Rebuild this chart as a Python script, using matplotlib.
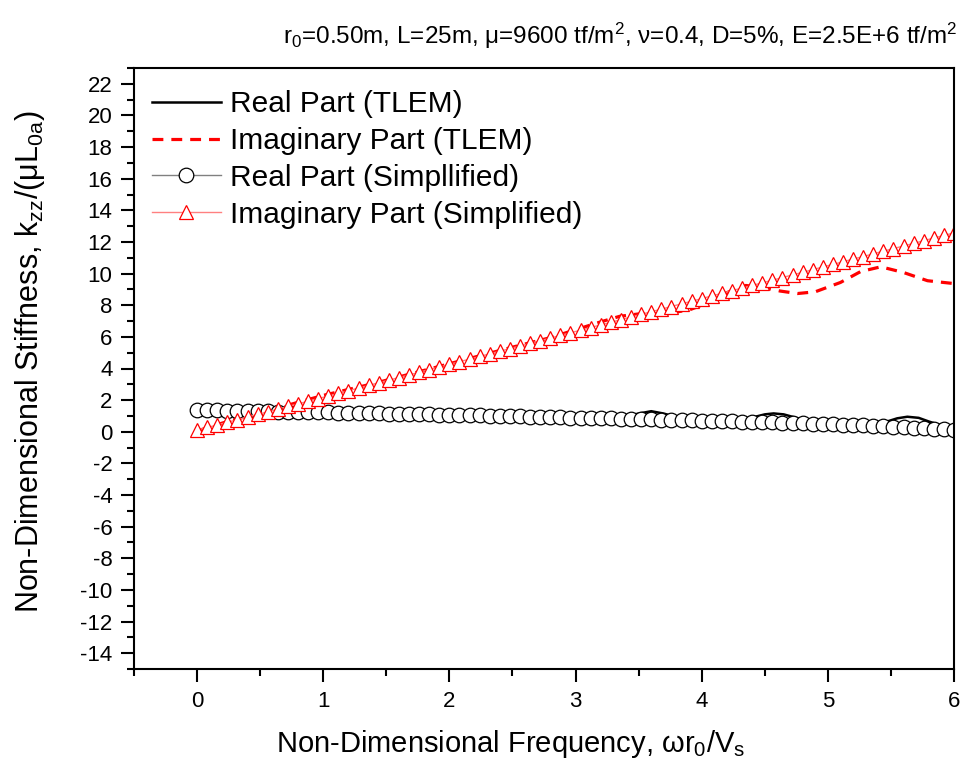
import matplotlib
matplotlib.use("Agg")
from matplotlib import pyplot as plt

plt.rcParams['font.family'] = ['Liberation Sans', 'DejaVu Sans']
plt.rcParams['mathtext.fontset'] = 'custom'
plt.rcParams['mathtext.rm'] = 'Liberation Sans'
plt.rcParams['mathtext.it'] = 'Liberation Sans:italic'
plt.rcParams['axes.unicode_minus'] = False

# simplified model, sampled every 0.08
freq_simple = [round(0.08 * k, 2) for k in range(76)]
real_simple = [1.37, 1.36, 1.35, 1.34, 1.33, 1.31, 1.30, 1.29, 1.28, 1.27,
               1.26, 1.25, 1.24, 1.22, 1.21, 1.20, 1.19, 1.18, 1.16, 1.15,
               1.14, 1.13, 1.12, 1.10, 1.09, 1.08, 1.07, 1.05, 1.03, 1.02,
               1.00, 0.99, 0.97, 0.96, 0.94, 0.93, 0.91, 0.90, 0.88, 0.87,
               0.85, 0.84, 0.82, 0.81, 0.79, 0.78, 0.76, 0.75, 0.73, 0.72,
               0.70, 0.68, 0.67, 0.65, 0.64, 0.62, 0.60, 0.59, 0.57, 0.55,
               0.53, 0.51, 0.49, 0.47, 0.44, 0.42, 0.40, 0.37, 0.35, 0.32,
               0.29, 0.25, 0.22, 0.19, 0.15, 0.12]
imag_simple = [0.10, 0.27, 0.43, 0.60, 0.77, 0.93, 1.10, 1.26, 1.43, 1.60,
               1.76, 1.93, 2.10, 2.26, 2.43, 2.60, 2.76, 2.93, 3.10, 3.26,
               3.43, 3.59, 3.76, 3.93, 4.09, 4.26, 4.43, 4.59, 4.76, 4.93,
               5.09, 5.26, 5.42, 5.59, 5.76, 5.92, 6.09, 6.26, 6.42, 6.59,
               6.76, 6.92, 7.09, 7.26, 7.42, 7.59, 7.75, 7.92, 8.09, 8.25,
               8.42, 8.59, 8.75, 8.92, 9.09, 9.25, 9.42, 9.58, 9.75, 9.92,
               10.08, 10.25, 10.42, 10.58, 10.75, 10.92, 11.08, 11.25, 11.42, 11.58,
               11.75, 11.91, 12.08, 12.25, 12.41, 12.58]

# TLEM solution
freq_tlem_re = [0.0, 0.5, 1.0, 1.5, 2.0, 2.5, 2.9, 3.1, 3.3, 3.4, 3.5, 3.6, 3.7,
                3.8, 3.9, 4.0, 4.1, 4.2, 4.3, 4.4, 4.5, 4.57, 4.65, 4.75, 4.85,
                4.95, 5.05, 5.15, 5.25, 5.35, 5.45, 5.55, 5.63, 5.72, 5.8, 5.9, 6.0]
real_tlem = [1.37, 1.30, 1.23, 1.15, 1.08, 0.98, 0.90, 0.86, 0.88, 0.98, 1.15, 1.30, 1.15,
             0.92, 0.70, 0.55, 0.48, 0.52, 0.68, 0.90, 1.10, 1.16, 1.10, 0.88, 0.62,
             0.40, 0.25, 0.20, 0.25, 0.40, 0.60, 0.85, 0.95, 0.88, 0.65, 0.40, 0.18]
freq_tlem_im = [0.0, 0.2, 0.5, 1.0, 1.4, 2.0, 2.5, 2.8, 3.0, 3.2, 3.35, 3.5, 3.7,
                3.9, 4.05, 4.2, 4.35, 4.5, 4.62, 4.76, 4.9, 5.1, 5.26, 5.42, 5.6,
                5.79, 6.0]
imag_tlem = [0.05, 0.55, 1.20, 2.30, 3.05, 4.30, 5.35, 5.95, 6.45, 6.95, 7.30, 7.45, 7.45,
             7.70, 8.15, 8.80, 9.25, 9.10, 8.90, 8.74, 8.85, 9.44, 10.13, 10.43, 10.07,
             9.55, 9.37]

fig = plt.figure(figsize=(9.64, 7.72), dpi=100)
ax = fig.add_axes([134 / 964, 1 - 669 / 772, 820 / 964, 601 / 772])

ax.plot(freq_tlem_re, real_tlem, color='black', lw=1.8, label='Real Part (TLEM)')
ax.plot(freq_tlem_im, imag_tlem, color='red', lw=2.3, ls=(0, (3.4, 2.5)),
        label='Imaginary Part (TLEM)')
ax.plot(freq_simple, real_simple, color='#808080', lw=1.0, marker='o', ms=10.5,
        mfc='white', mec='black', mew=0.9, label='Real Part (Simpllified)')
ax.plot(freq_simple, imag_simple, color='#ff8080', lw=1.0, marker='^', ms=10.5,
        mfc='white', mec='red', mew=0.9, label='Imaginary Part (Simplified)')

ax.set_xlim(-0.5, 6)
ax.set_ylim(-15, 23)
ax.set_xticks(range(0, 7))
ax.set_xticks([x / 2 for x in range(-1, 13)], minor=True)
ax.set_yticks(range(-14, 23, 2))
ax.set_yticks(range(-15, 24), minor=True)
ax.tick_params(which='both', direction='out', width=1.5, labelsize=16)
ax.tick_params(which='major', length=9.5, pad=6)
ax.tick_params(which='minor', length=5)
for s in ax.spines.values():
    s.set_linewidth(1.5)

ax.set_xlabel(r'Non-Dimensional Frequency, ωr$_{\mathregular{0}}$/V$_{\mathregular{s}}$', fontsize=21)
ax.xaxis.label.set_va('center')
ax.xaxis.set_label_coords((511 - 134) / 820, -0.125)
ax.set_ylabel(r'Non-Dimensional Stiffness, k$_{\mathregular{zz}}$/(μL$_{\mathregular{0a}}$)', fontsize=22)
ax.yaxis.label.set_va('center')
ax.yaxis.set_label_coords(-0.127, 0.512)

fig.text(957 / 964, 1 - 36 / 772,
         r'r$_{\mathregular{0}}$=0.50m, L=25m, μ=9600 tf/m$^{\mathregular{2}}$, ν=0.4, D=5%, '
         r'E=2.5E+6 tf/m$^{\mathregular{2}}$',
         ha='right', va='center', fontsize=17.5)

ax.legend(loc='upper left', bbox_to_anchor=(152 / 964, 1 - 90 / 772),
          bbox_transform=fig.transFigure, frameon=False, fontsize=21.5,
          handlelength=2.3, handletextpad=0.3, labelspacing=0.3,
          borderpad=0, borderaxespad=0)

fig.savefig('out.png', dpi=100)
